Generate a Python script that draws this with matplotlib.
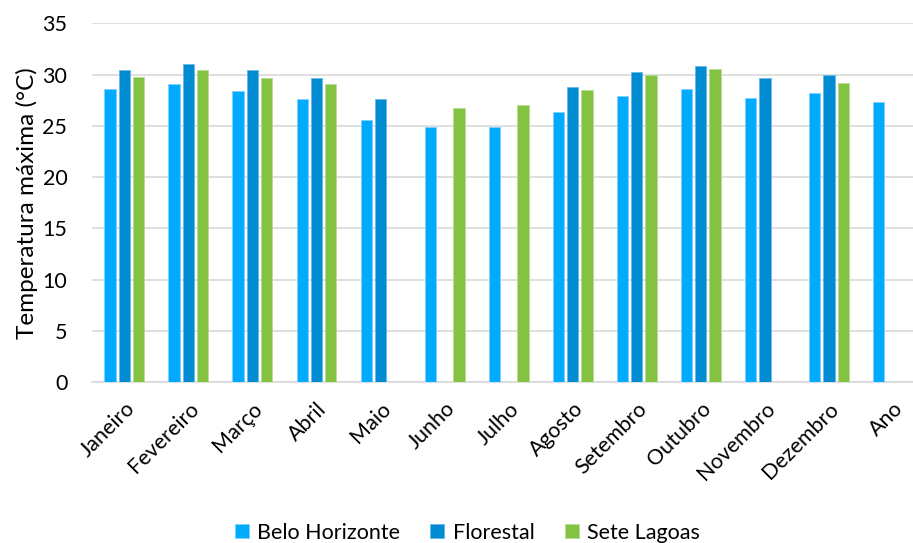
import matplotlib
matplotlib.use("Agg")
import matplotlib.pyplot as plt
import numpy as np

plt.rcParams['font.family'] = ['Lato', 'DejaVu Sans']

meses = ["Janeiro", "Fevereiro", "Março", "Abril", "Maio", "Junho", "Julho",
         "Agosto", "Setembro", "Outubro", "Novembro", "Dezembro", "Ano"]

belo_horizonte = [28.6, 29.1, 28.4, 27.6, 25.6, 24.9, 24.9, 26.3, 27.9, 28.6, 27.7, 28.2, 27.3]
florestal = [30.4, 31.0, 30.4, 29.7, 27.6, np.nan, np.nan, 28.8, 30.2, 30.8, 29.7, 30.0, np.nan]
sete_lagoas = [29.8, 30.4, 29.7, 29.1, np.nan, 26.7, 27.0, 28.5, 30.0, 30.5, np.nan, 29.2, np.nan]

series = [
    ("Belo Horizonte", belo_horizonte, "#00AAFF", "#7fd0ff"),
    ("Florestal", florestal, "#008BD2", "#66b8e6"),
    ("Sete Lagoas", sete_lagoas, "#82C341", "#b8dd92"),
]

fig = plt.figure(figsize=(9.13, 5.43), dpi=100)
ax = fig.add_axes([92.3 / 913, 161 / 543, (925 - 92.3) / 913, (382 - 23.3) / 543])

x = np.arange(len(meses))
stride = 0.223
width = 0.177
for i, (nome, vals, cor, borda) in enumerate(series):
    ax.bar(x + (i - 1) * stride, vals, width=width, color=cor,
           edgecolor=borda, linewidth=0.6, label=nome, zorder=3)

ax.set_xlim(-0.5, len(meses) - 0.5)
ax.set_ylim(0, 35)
ax.set_yticks(np.arange(0, 36, 5))
ax.yaxis.grid(True, color="#d9d9d9", linewidth=1.2, zorder=0)
ax.set_axisbelow(True)
for s in ["top", "right", "left"]:
    ax.spines[s].set_visible(False)
ax.spines["bottom"].set_color("#d9d9d9")
ax.spines["bottom"].set_linewidth(1.2)
ax.tick_params(axis="both", length=0, labelsize=15.5, colors="#000000")
ax.tick_params(axis="y", pad=18)

ax.set_xticks(x)
ax.set_xticklabels(meses, rotation=45, ha="right", rotation_mode="anchor")
ax.tick_params(axis="x", pad=12)

ax.set_ylabel("Temperatura máxima (°C)", fontsize=17.5, labelpad=3)

fig.legend(loc="lower center", bbox_to_anchor=(0.512, -0.035), ncol=3,
           frameon=False, fontsize=15.5, handlelength=0.65, handleheight=0.65,
           handletextpad=0.4, columnspacing=1.4)

fig.savefig("out.png", dpi=100)
